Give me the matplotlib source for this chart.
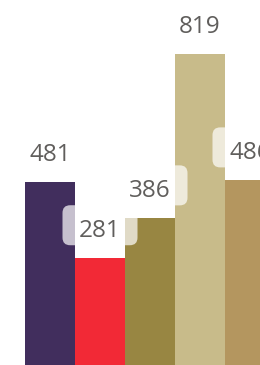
import matplotlib
matplotlib.use('Agg')
import matplotlib.pyplot as plt
import matplotlib.transforms as mtransforms
from matplotlib.patches import FancyBboxPatch

# ---- data --------------------------------------------------------------------
categories = ['A', 'B', 'C', 'D', 'E']
values = [481, 281, 386, 819, 486]
colors = ['#412e5d', '#f22936', '#988642', '#c8bb8a', '#b4965f']

plt.rcParams['font.family'] = ['Open Sans', 'DejaVu Sans']

fig = plt.figure(figsize=(2.6, 3.65), dpi=100)
ax = fig.add_axes([0, 0, 1, 1])
xs = list(range(len(categories)))
ax.bar(xs, values, width=1.0, color=colors, zorder=1)
ax.set_xlim(-1.0, 4.2)
ax.set_ylim(0, 961.2)
ax.axis('off')

# label boxes sized in points, anchored at each bar's top
pt = fig.dpi / 72.0
for x, v in zip(xs, values):
    anchor = mtransforms.Affine2D().scale(pt) + \
        mtransforms.ScaledTranslation(x, v, ax.transData)
    box = FancyBboxPatch((-27, 9.4), 54, 28.8,
                         boxstyle='round,pad=0,rounding_size=5.5',
                         transform=anchor, facecolor='white', alpha=0.7,
                         edgecolor='none', zorder=2, clip_on=False)
    ax.add_patch(box)
    ax.annotate(str(v), (x, v), xytext=(0, 15.1), textcoords='offset points',
                ha='center', va='baseline', fontsize=17.5, color='#605e5c',
                zorder=3, annotation_clip=False)

fig.savefig('out.png', dpi=100)
